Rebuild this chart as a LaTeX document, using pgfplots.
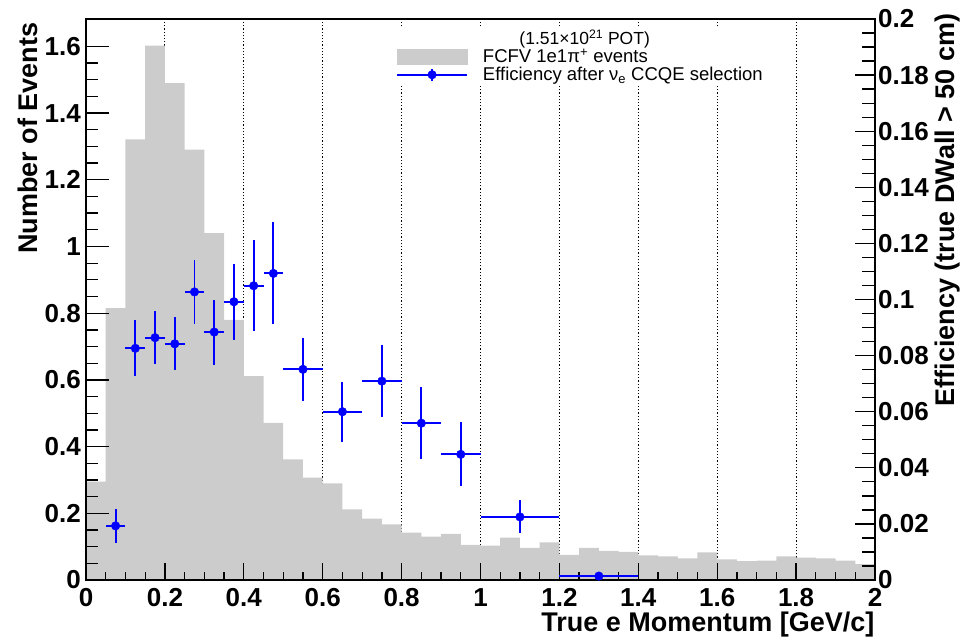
\documentclass[border=0pt]{standalone}
\usepackage{fontspec}
\setmainfont{Liberation Sans}
\usepackage{pgfplots}
\usepackage{pgfplotstable}
\pgfplotsset{compat=1.18}
\definecolor{histgray}{RGB}{204,204,204}
\definecolor{effblue}{RGB}{0,0,255}

\pgfplotstableread{
x y
0.00 0.295
0.05 0.815
0.10 1.321
0.15 1.602
0.20 1.490
0.25 1.290
0.30 1.040
0.35 0.780
0.40 0.611
0.45 0.471
0.50 0.362
0.55 0.307
0.60 0.290
0.65 0.212
0.70 0.184
0.75 0.167
0.80 0.142
0.85 0.130
0.90 0.138
0.95 0.105
1.00 0.103
1.05 0.127
1.10 0.096
1.15 0.113
1.20 0.075
1.25 0.096
1.30 0.087
1.35 0.084
1.40 0.074
1.45 0.071
1.50 0.065
1.55 0.083
1.60 0.062
1.65 0.057
1.70 0.058
1.75 0.071
1.80 0.067
1.85 0.065
1.90 0.058
1.95 0.048
2.00 0.048
}\histtable

\pgfplotstableread{
x y ex ey
0.075 0.0193 0.025 0.0060
0.125 0.0826 0.025 0.0100
0.175 0.0864 0.025 0.0094
0.225 0.0842 0.025 0.0095
0.275 0.1027 0.025 0.0114
0.325 0.0884 0.025 0.0116
0.375 0.0992 0.025 0.0136
0.425 0.1049 0.025 0.0162
0.475 0.1093 0.025 0.0182
0.55 0.0751 0.05 0.0112
0.65 0.0600 0.05 0.0107
0.75 0.0709 0.05 0.0129
0.85 0.0559 0.05 0.0129
0.95 0.0448 0.05 0.0114
1.1 0.0225 0.1 0.0059
1.3 0.0014 0.1 0.0012
}\efftable

\pgfplotsset{
  base/.style={
    scale only axis, width=789pt, height=561pt,
    xmin=0, xmax=2,
    xtick={0,0.2,0.4,0.6,0.8,1,1.2,1.4,1.6,1.8,2},
    minor x tick num=3,
    tick style={line width=1.3pt, black},
    /pgf/number format/assume math mode=true,
    ticklabel style={font=\fontsize{26}{30}\selectfont\bfseries},
    label style={font=\fontsize{27}{31}\selectfont\bfseries},
    scaled ticks=false,
  },
}

\begin{document}
\begin{tikzpicture}
% A: grid + histogram
\begin{axis}[base,
  ymin=0, ymax=1.682,
  ytick=\empty,
  xmajorgrids,
  major grid style={black, line width=1.2pt, dash pattern=on 1.2pt off 2pt},
  major tick length=0pt, minor tick length=0pt,
  xticklabels={,,},
  axis line style={draw=none},
]
\addplot[const plot, fill=histgray, draw=none] table[x=x,y=y] {\histtable} \closedcycle;
\end{axis}
% B: frame + x ticks
\begin{axis}[base,
  ymin=0, ymax=1.682,
  ytick=\empty,
  xtick pos=bottom,
  major tick length=17pt, minor tick length=8pt,
  axis line style={line width=1.8pt, black},
  xticklabel style={anchor=north, inner sep=0pt, yshift=-8pt,
    /pgf/number format/fixed},
  xlabel={True e Momentum [GeV/c]},
  xlabel style={at={(axis description cs:1.0036,-0.0922)}, anchor=base east},
]
\end{axis}
% C: left y ticks
\begin{axis}[base,
  ymin=0, ymax=1.682,
  xtick=\empty,
  ytick={0,0.2,0.4,0.6,0.8,1,1.2,1.4,1.6},
  minor y tick num=3,
  ytick pos=left,
  major tick length=23pt, minor tick length=12pt,
  axis line style={draw=none},
  yticklabel style={anchor=east, inner sep=0pt, xshift=-5pt,
    /pgf/number format/fixed},
  ylabel={Number of Events},
  ylabel style={at={(axis description cs:-0.0741,1.0)}, anchor=east},
]
\end{axis}
% D: right y axis + efficiency
\begin{axis}[base,
  ymin=0, ymax=0.2,
  xtick=\empty,
  ytick={0,0.02,0.04,0.06,0.08,0.1,0.12,0.14,0.16,0.18,0.2},
  minor y tick num=3,
  ytick pos=right, yticklabel pos=right,
  major tick length=20pt, minor tick length=13pt,
  axis line style={draw=none},
  yticklabel style={anchor=west, inner sep=0pt, xshift=3pt,
    /pgf/number format/fixed, /pgf/number format/precision=2},
  ylabel={Efficiency (true DWall > 50 cm)},
  ylabel style={at={(axis description cs:1.0925,1.016)}, anchor=east},
  clip=false,
  legend style={at={(rel axis cs:0.3916,0.9857)}, anchor=north west,
    draw=none, fill=white, inner sep=1pt,
    font=\fontsize{18.5}{22}\selectfont, row sep=0pt,
    nodes={inner sep=1.5pt}},
  legend cell align=left,
]
\addplot[forget plot, effblue, only marks, mark=*, mark size=4.3pt,
  mark options={fill=effblue, draw=effblue},
  error bars/.cd, x dir=both, x explicit, y dir=both, y explicit,
  error bar style={line width=1.9pt, effblue}, error mark=none]
  table[x=x, y=y, x error=ex, y error=ey] {\efftable};
\addlegendimage{empty legend}
\addlegendentry{\hspace{50pt}{\fontsize{17.5}{21}\selectfont(1.51×10\textsuperscript{21} POT)}}
\addlegendimage{legend image code/.code={\fill[histgray] (0pt,-7.5pt) rectangle (70pt,7.5pt);}}
\addlegendentry{\hspace{13.5pt}FCFV 1e1π\textsuperscript{+} events}
\addlegendimage{legend image code/.code={%
  \draw[effblue, line width=1.8pt] (0pt,0pt) -- (70pt,0pt);
  \draw[effblue, line width=1.8pt] (35pt,-6pt) -- (35pt,6pt);
  \fill[effblue] (35pt,0pt) circle (4.3pt);}}
\addlegendentry{\hspace{13.5pt}Efficiency after ν\textsubscript{e} CCQE selection}
\coordinate (bbsw) at (axis description cs:-0.10900,-0.10695);
\coordinate (bbne) at (axis description cs:1.12294,1.03387);
\end{axis}
\path (bbsw) rectangle (bbne);
\end{tikzpicture}
\end{document}
